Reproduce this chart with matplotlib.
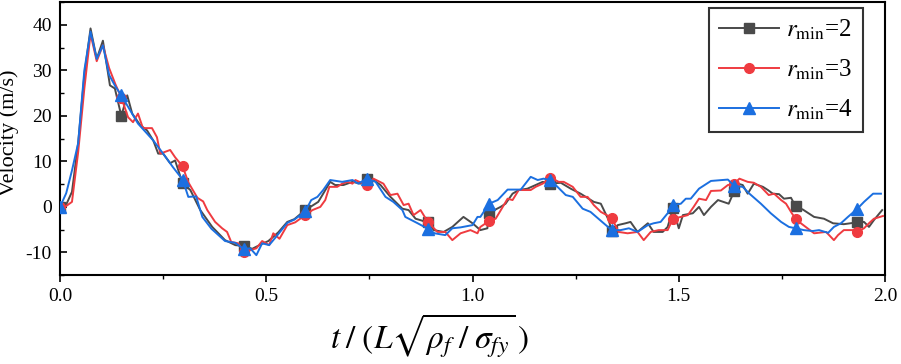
import matplotlib
matplotlib.use("Agg")
import matplotlib.pyplot as plt
from matplotlib.ticker import MultipleLocator

plt.rcParams['font.family'] = ['Liberation Serif', 'DejaVu Serif']
plt.rcParams['mathtext.fontset'] = 'stix'
plt.rcParams['axes.unicode_minus'] = False

# ---- data ----
t2 = [0.000, 0.015, 0.029, 0.044, 0.059, 0.074, 0.089, 0.104, 0.121, 0.133, 0.1486, 0.163, 0.175, 0.194,
      0.211, 0.226, 0.238, 0.250, 0.267, 0.279, 0.2972, 0.316, 0.340, 0.369, 0.400, 0.425, 0.4458, 0.466,
      0.488, 0.505, 0.529, 0.551, 0.568, 0.5944, 0.607, 0.626, 0.638, 0.655, 0.667, 0.687, 0.709, 0.728,
      0.7430, 0.760, 0.777, 0.801, 0.830, 0.845, 0.862, 0.8916, 0.906, 0.930, 0.951, 0.978, 1.000, 1.019,
      1.036, 1.0402, 1.068, 1.080, 1.097, 1.112, 1.133, 1.153, 1.170, 1.1888, 1.214, 1.238, 1.262, 1.294,
      1.311, 1.330, 1.3374, 1.352, 1.371, 1.383, 1.400, 1.425, 1.439, 1.461, 1.473, 1.4860, 1.500, 1.510,
      1.534, 1.549, 1.561, 1.578, 1.595, 1.621, 1.6346, 1.643, 1.655, 1.667, 1.682, 1.704, 1.716, 1.728,
      1.743, 1.755, 1.772, 1.7832, 1.801, 1.828, 1.852, 1.874, 1.900, 1.9318, 1.949, 1.961, 1.973, 1.993]
v2 = [0.0, 0.5, 3.3, 14.0, 29.0, 39.2, 32.5, 36.5, 26.7, 26.0, 20.0, 24.5, 20.5, 18.0,
      16.8, 14.6, 11.7, 11.7, 9.6, 10.2, 5.2, 3.7, -0.7, -4.4, -7.3, -8.4, -8.6, -9.2,
      -8.2, -7.5, -5.6, -3.3, -2.7, -0.7, 0.0, 1.1, 2.9, 5.5, 4.8, 4.8, 5.5, 5.1,
      6.2, 5.9, 4.8, 2.2, -0.4, -0.7, -2.6, -3.4, -5.1, -5.5, -4.4, -2.2, -3.6, -5.1,
      -4.7, -1.3, 0.0, 0.7, 2.9, 3.7, 4.0, 4.8, 5.5, 5.1, 5.3, 4.0, 2.9, 1.1,
      0.7, -2.9, -5.3, -4.0, -3.6, -3.3, -5.5, -3.6, -5.5, -5.5, -4.4, -0.3, -4.7, -1.8,
      -1.4, 0.0, -1.8, 0.0, 1.5, 0.7, 3.5, 5.1, 4.8, 2.9, 5.1, 4.4, 3.7, 2.9,
      2.8, 1.8, 2.0, 0.1, -0.6, -2.2, -2.6, -3.6, -3.8, -3.4, -3.3, -4.4, -2.9, -0.7]

t3 = [0.000, 0.012, 0.029, 0.044, 0.059, 0.074, 0.089, 0.104, 0.119, 0.134, 0.1486, 0.165, 0.177, 0.189,
      0.201, 0.223, 0.235, 0.243, 0.267, 0.279, 0.2972, 0.311, 0.333, 0.347, 0.357, 0.376, 0.393, 0.405,
      0.415, 0.432, 0.4458, 0.461, 0.476, 0.490, 0.507, 0.517, 0.532, 0.551, 0.570, 0.5944, 0.612, 0.631,
      0.643, 0.653, 0.672, 0.684, 0.697, 0.709, 0.716, 0.7430, 0.760, 0.784, 0.801, 0.818, 0.833, 0.845,
      0.857, 0.874, 0.8916, 0.915, 0.934, 0.951, 0.971, 0.995, 1.012, 1.019, 1.0402, 1.056, 1.068, 1.085,
      1.097, 1.112, 1.141, 1.153, 1.170, 1.1888, 1.209, 1.221, 1.243, 1.262, 1.279, 1.294, 1.311, 1.3374,
      1.354, 1.376, 1.400, 1.415, 1.432, 1.451, 1.473, 1.4860, 1.505, 1.522, 1.536, 1.549, 1.566, 1.578,
      1.602, 1.619, 1.6346, 1.647, 1.667, 1.682, 1.699, 1.718, 1.731, 1.748, 1.760, 1.774, 1.7832, 1.796,
      1.828, 1.857, 1.876, 1.886, 1.900, 1.925, 1.9318, 1.949, 1.961, 1.973, 1.995]
v3 = [0.0, 0.0, 1.1, 12.0, 26.0, 38.0, 32.0, 35.5, 30.5, 27.0, 24.0, 19.7, 18.6, 20.5,
      17.3, 17.3, 15.3, 11.7, 12.5, 10.9, 8.9, 5.4, 2.0, 1.2, -0.7, -3.3, -4.7, -5.5,
      -7.7, -8.0, -10.0, -9.5, -9.1, -7.5, -8.4, -5.8, -7.0, -4.0, -3.4, -1.8, -0.7, 0.0,
      1.5, 4.4, 4.4, 5.1, 5.5, 5.1, 5.9, 4.8, 6.2, 5.1, 2.6, 2.9, 0.4, 0.7,
      -1.8, -0.7, -3.3, -5.5, -5.5, -7.3, -5.8, -5.1, -5.8, -4.4, -3.1, -2.6, -0.8, 1.8,
      1.5, 3.7, 3.7, 4.4, 5.1, 6.4, 5.5, 5.5, 4.4, 2.2, 2.2, 0.4, -1.1, -2.4,
      -5.5, -5.8, -5.5, -7.3, -5.5, -5.1, -5.1, -2.6, -2.2, -1.8, 0.0, 1.8, 1.5, 3.5,
      3.6, 4.8, 5.1, 6.2, 5.5, 5.3, 4.4, 2.6, 2.9, 1.5, 0.7, -1.4, -2.6, -3.6,
      -5.8, -5.5, -7.3, -6.2, -5.1, -5.1, -5.5, -4.7, -3.6, -2.6, -2.0]

t4 = [0.000, 0.015, 0.029, 0.044, 0.059, 0.074, 0.089, 0.104, 0.119, 0.134, 0.1486, 0.189, 0.226, 0.250,
      0.274, 0.2972, 0.311, 0.330, 0.345, 0.367, 0.400, 0.425, 0.4458, 0.461, 0.476, 0.490, 0.507, 0.529,
      0.551, 0.568, 0.5944, 0.609, 0.624, 0.638, 0.655, 0.684, 0.709, 0.723, 0.7430, 0.765, 0.789, 0.808,
      0.830, 0.837, 0.867, 0.8916, 0.908, 0.934, 0.951, 0.971, 1.000, 1.012, 1.019, 1.0402, 1.061, 1.085,
      1.117, 1.141, 1.158, 1.172, 1.1888, 1.206, 1.226, 1.243, 1.267, 1.286, 1.318, 1.3374, 1.359, 1.379,
      1.400, 1.425, 1.439, 1.456, 1.473, 1.4860, 1.505, 1.517, 1.529, 1.549, 1.578, 1.619, 1.6346, 1.655,
      1.670, 1.699, 1.723, 1.748, 1.767, 1.7832, 1.803, 1.825, 1.840, 1.862, 1.876, 1.893, 1.910, 1.9318,
      1.949, 1.971, 1.990]
v4 = [0.0, 3.0, 8.0, 14.0, 30.0, 38.5, 32.5, 35.5, 29.0, 26.5, 24.5, 18.3, 14.6, 11.7,
      8.7, 6.0, 2.2, 2.3, -2.2, -4.8, -7.5, -7.9, -9.3, -9.1, -10.6, -8.0, -8.4, -6.0,
      -3.5, -2.8, -1.0, 1.5, 2.2, 3.7, 5.9, 5.5, 5.9, 5.1, 6.2, 5.5, 2.2, 1.1,
      -0.7, -2.2, -3.6, -4.8, -5.8, -6.2, -4.7, -4.5, -4.0, -2.2, -2.2, 0.7, 1.5, 3.8,
      3.8, 6.6, 5.9, 6.2, 5.9, 4.4, 2.6, 2.2, -0.4, -1.1, -3.6, -5.1, -5.1, -4.7,
      -5.5, -4.0, -3.6, -3.3, -1.4, 0.4, 0.7, 1.8, 1.8, 4.0, 5.7, 6.0, 4.6, 4.4,
      3.0, 0.7, -1.4, -3.3, -4.4, -4.7, -5.1, -5.3, -5.1, -5.7, -4.4, -3.6, -2.2, -0.5,
      1.1, 2.9, 2.9]

# times at which the symbols are drawn
t_marks = [0.000, 0.1486, 0.2972, 0.4458, 0.5944, 0.7430, 0.8916, 1.0402, 1.1888, 1.3374,
           1.4860, 1.6346, 1.7832, 1.9318]

labels = [r'$r_{\rm min}$=2', r'$r_{\rm min}$=3', r'$r_{\rm min}$=4']
colors = ['#4a4a4a', '#ef3b40', '#1b6fe0']
markers = ['s', 'o', '^']

xticks = [0.0, 0.5, 1.0, 1.5, 2.0]
yticks = [-10, 0, 10, 20, 30, 40]

fig = plt.figure(figsize=(9.01, 3.64), dpi=100)
ax = fig.add_axes([0.0666, 0.244, 0.9157, 0.7505])

for t, v, lab, c, mk in zip([t2, t3, t4], [v2, v3, v4], labels, colors, markers):
    idx = [t.index(tm) for tm in t_marks]
    ax.plot(t, v, color=c, lw=1.4, marker=mk, markevery=idx, markersize=8 if mk == '^' else 7,
            label=lab, zorder=3)

ax.set_xlim(0, 2.0)
ax.set_ylim(-15, 45)
ax.set_xticks(xticks)
ax.set_xticklabels([f'{x:.1f}' for x in xticks])
ax.set_yticks(yticks)
ax.xaxis.set_minor_locator(MultipleLocator(0.25))
ax.yaxis.set_minor_locator(MultipleLocator(5))
ax.tick_params(axis='x', which='major', direction='out', length=5, width=1.2, labelsize=14, pad=4)
ax.tick_params(axis='x', which='minor', direction='out', length=3, width=1.0)
ax.tick_params(axis='y', which='major', direction='in', length=5, width=1.2, labelsize=14, pad=6)
ax.tick_params(axis='y', which='minor', direction='in', length=3, width=1.0)
for s in ax.spines.values():
    s.set_linewidth(1.5)

ax.set_ylabel('Velocity (m/s)', fontsize=16)
ax.yaxis.set_label_coords(-0.05, 0.52)
ax.set_xlabel(r'$t\;/\;(L\sqrt{\rho_{f}\;/\;\sigma_{fy}}\,)$', fontsize=24)
ax.xaxis.set_label_coords(0.448, -0.135)

leg = ax.legend(loc='upper right', fontsize=18, frameon=True, fancybox=False, edgecolor='black',
                handlelength=2.4, borderpad=0.4, labelspacing=0.62, handletextpad=0.3,
                borderaxespad=0, bbox_to_anchor=(0.973, 0.978))
leg.get_frame().set_linewidth(1.5)

fig.savefig('out.png', dpi=100)
